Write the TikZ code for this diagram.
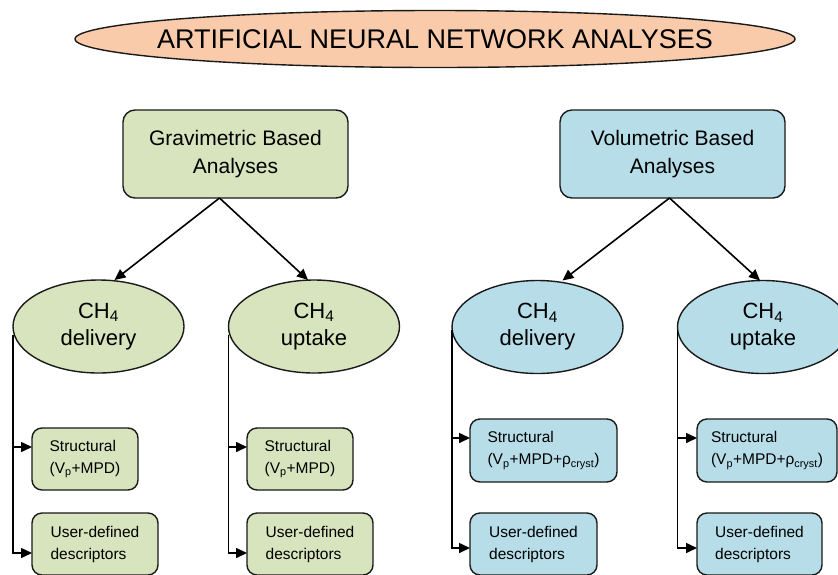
\documentclass[tikz,border=0pt]{standalone}
\usepackage{fontspec}
\setmainfont{Liberation Sans}
\usetikzlibrary{shapes.geometric,arrows.meta}
\definecolor{peachfill}{HTML}{F9CBAA}
\definecolor{gfill}{HTML}{D7E4BD}
\definecolor{bfill}{HTML}{B7DDE8}
\definecolor{edge}{HTML}{1A1A1A}
\begin{document}
\begin{tikzpicture}[x=1pt,y=-1pt,
 every node/.style={inner sep=0pt, outer sep=0pt, text=black},
 bigbox/.style={draw=edge, line width=1.4pt, rounded corners=12pt, minimum width=225pt, minimum height=88pt, align=center, anchor=north west, font=\fontsize{21}{28}\selectfont},
 oval/.style={ellipse, draw=edge, line width=1.4pt, minimum width=171pt, minimum height=93pt, align=center, font=\fontsize{22}{27}\selectfont},
 smallbox/.style={draw=edge, line width=1.4pt, rounded corners=10pt, minimum height=62pt, align=left, anchor=north west, font=\fontsize{15.5}{22}\selectfont},
 arr/.style={draw=black, line width=1.6pt, -{Triangle[length=11pt,width=10pt]}},
]
\clip (0,0) rectangle (838,574);
\fill[white] (0,0) rectangle (838,574);

\node[ellipse, draw=edge, line width=1.4pt, fill=peachfill, minimum width=720pt, minimum height=57pt, font=\fontsize{27}{32}\selectfont] (title) at (435,39) {\makebox[0pt][c]{ARTIFICIAL NEURAL NETWORK ANALYSES}};

\node[bigbox, fill=gfill] (grav) at (123,110) {Gravimetric Based\\Analyses};
\node[bigbox, fill=bfill] (vol) at (560,110) {Volumetric Based\\Analyses};

\node[oval, fill=gfill] (e1) at (98.5,326.5) {CH\textsubscript{4}\\delivery};
\node[oval, fill=gfill] (e2) at (314,326.5) {CH\textsubscript{4}\\uptake};
\node[oval, fill=bfill] (e3) at (537.5,327) {CH\textsubscript{4}\\delivery};
\node[oval, fill=bfill] (e4) at (763,327) {CH\textsubscript{4}\\uptake};

\node[smallbox, fill=gfill, minimum width=106pt] (s1) at (32,428) {Structural\\(V\textsubscript{p}+MPD)};
\node[smallbox, fill=gfill, minimum width=126pt] (u1) at (32,513) {User-defined\\descriptors};
\node[smallbox, fill=gfill, minimum width=106pt] (s2) at (247,428) {Structural\\(V\textsubscript{p}+MPD)};
\node[smallbox, fill=gfill, minimum width=126pt] (u2) at (247,513) {User-defined\\descriptors};
\node[smallbox, fill=bfill, minimum width=147pt, minimum height=63pt] (s3) at (470,419) {Structural\\(V\textsubscript{p}+MPD+ρ\textsubscript{cryst})};
\node[smallbox, fill=bfill, minimum width=127pt] (u3) at (470,513) {User-defined\\descriptors};
\node[smallbox, fill=bfill, minimum width=140pt, minimum height=63pt] (s4) at (697,419) {Structural\\(V\textsubscript{p}+MPD+ρ\textsubscript{cryst})};
\node[smallbox, fill=bfill, minimum width=125pt] (u4) at (697,513) {User-defined\\descriptors};

\draw[arr] ([xshift=-16pt]grav.south) -- ([xshift=16pt]e1.north);
\draw[arr] ([xshift=-16pt]grav.south) -- ([xshift=-6pt]e2.north);
\draw[arr] ([xshift=-3pt]vol.south) -- ([xshift=25pt]e3.north);
\draw[arr] ([xshift=-3pt]vol.south) -- ([xshift=-3pt]e4.north);

\draw[arr] ([yshift=-8pt]e1.west) |- ([yshift=-19pt]s1.north west);
\draw[arr] ([yshift=-8pt]e1.west) |- ([yshift=-40pt]u1.north west);
\draw[arr] ([yshift=-8pt]e2.west) |- ([yshift=-19pt]s2.north west);
\draw[arr] ([yshift=-8pt]e2.west) |- ([yshift=-40pt]u2.north west);
\draw[arr] ([yshift=-3pt]e3.west) |- ([yshift=-19pt]s3.north west);
\draw[arr] ([yshift=-3pt]e3.west) |- ([yshift=-35pt]u3.north west);
\draw[arr] ([yshift=-3pt]e4.west) |- ([yshift=-19pt]s4.north west);
\draw[arr] ([yshift=-3pt]e4.west) |- ([yshift=-35pt]u4.north west);
\end{tikzpicture}
\end{document}
